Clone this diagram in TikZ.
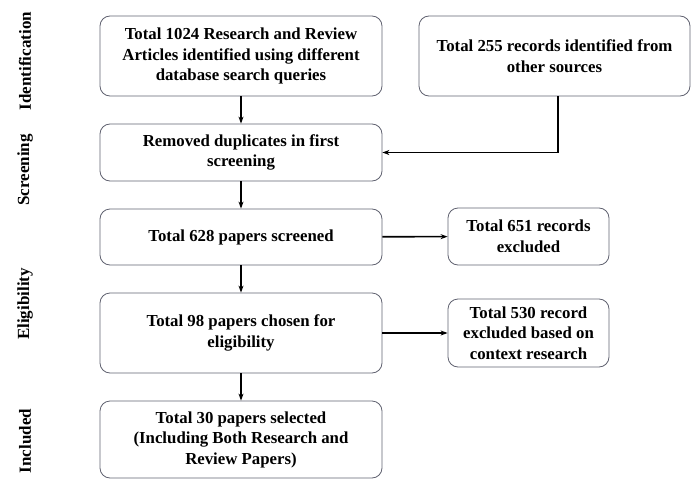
\documentclass[tikz,border=0pt]{standalone}
\usepackage{fontspec}
\setmainfont{Liberation Serif}
\usetikzlibrary{arrows.meta}
\definecolor{boxline}{RGB}{96,98,112}
\begin{document}
\begin{tikzpicture}[x=1pt,y=-1pt,
  stage/.style={rounded corners=10pt,draw=boxline,line width=0.8pt,align=center,
    minimum width=282pt,inner sep=0pt,font=\fontsize{16.8}{20.5}\selectfont\bfseries},
  side/.style={rotate=90,font=\fontsize{17}{20}\selectfont\bfseries},
  flow/.style={-{Stealth[length=7pt,width=5pt]},line width=1.6pt}]%PRISMA
\useasboundingbox (0,0) rectangle (691,479);
\node[side] (sid) at (25,61) {Identification};
\node[side] (ssc) at (25,170) {Screening};
\node[side] (sel) at (25,304) {Eligibility};
\node[side] (sin) at (25,441) {Included};
\node[stage,minimum height=80pt] (ident) at (241,56)
  {Total 1024 Research and Review\\Articles identified using different\\database search queries};
\node[stage,minimum height=80pt,minimum width=271pt] (other) at (554.5,56)
  {Total 255 records identified from\\other sources};
\node[stage,minimum height=57pt] (dup) at (241,152.5) {Removed duplicates in first\\screening};
\node[stage,minimum height=56pt] (scr) at (241,237) {Total 628 papers screened};
\node[stage,minimum height=57pt,minimum width=161pt] (ex1) at (528.5,236.5) {Total 651 records\\excluded};
\node[stage,minimum height=80pt] (elig) at (241,333) {Total 98 papers chosen for\\eligibility};
\node[stage,minimum height=68pt,minimum width=161pt] (ex2) at (528.5,333)
  {Total 530 record\\excluded based on\\context research};
\node[stage,minimum height=77pt] (incl) at (241,439.5)
  {Total 30 papers selected\\(Including Both Research and\\Review Papers)};
\draw[flow] (ident) -- (dup);
\draw[flow] ([xshift=3.5pt]other.south) |- (dup.east);
\draw[flow] (dup) -- (scr);
\draw[flow] (scr) -- (ex1);
\draw[flow] (scr) -- (elig);
\draw[flow] (elig) -- (ex2);
\draw[flow] (elig) -- (incl);
\end{tikzpicture}
\end{document}
